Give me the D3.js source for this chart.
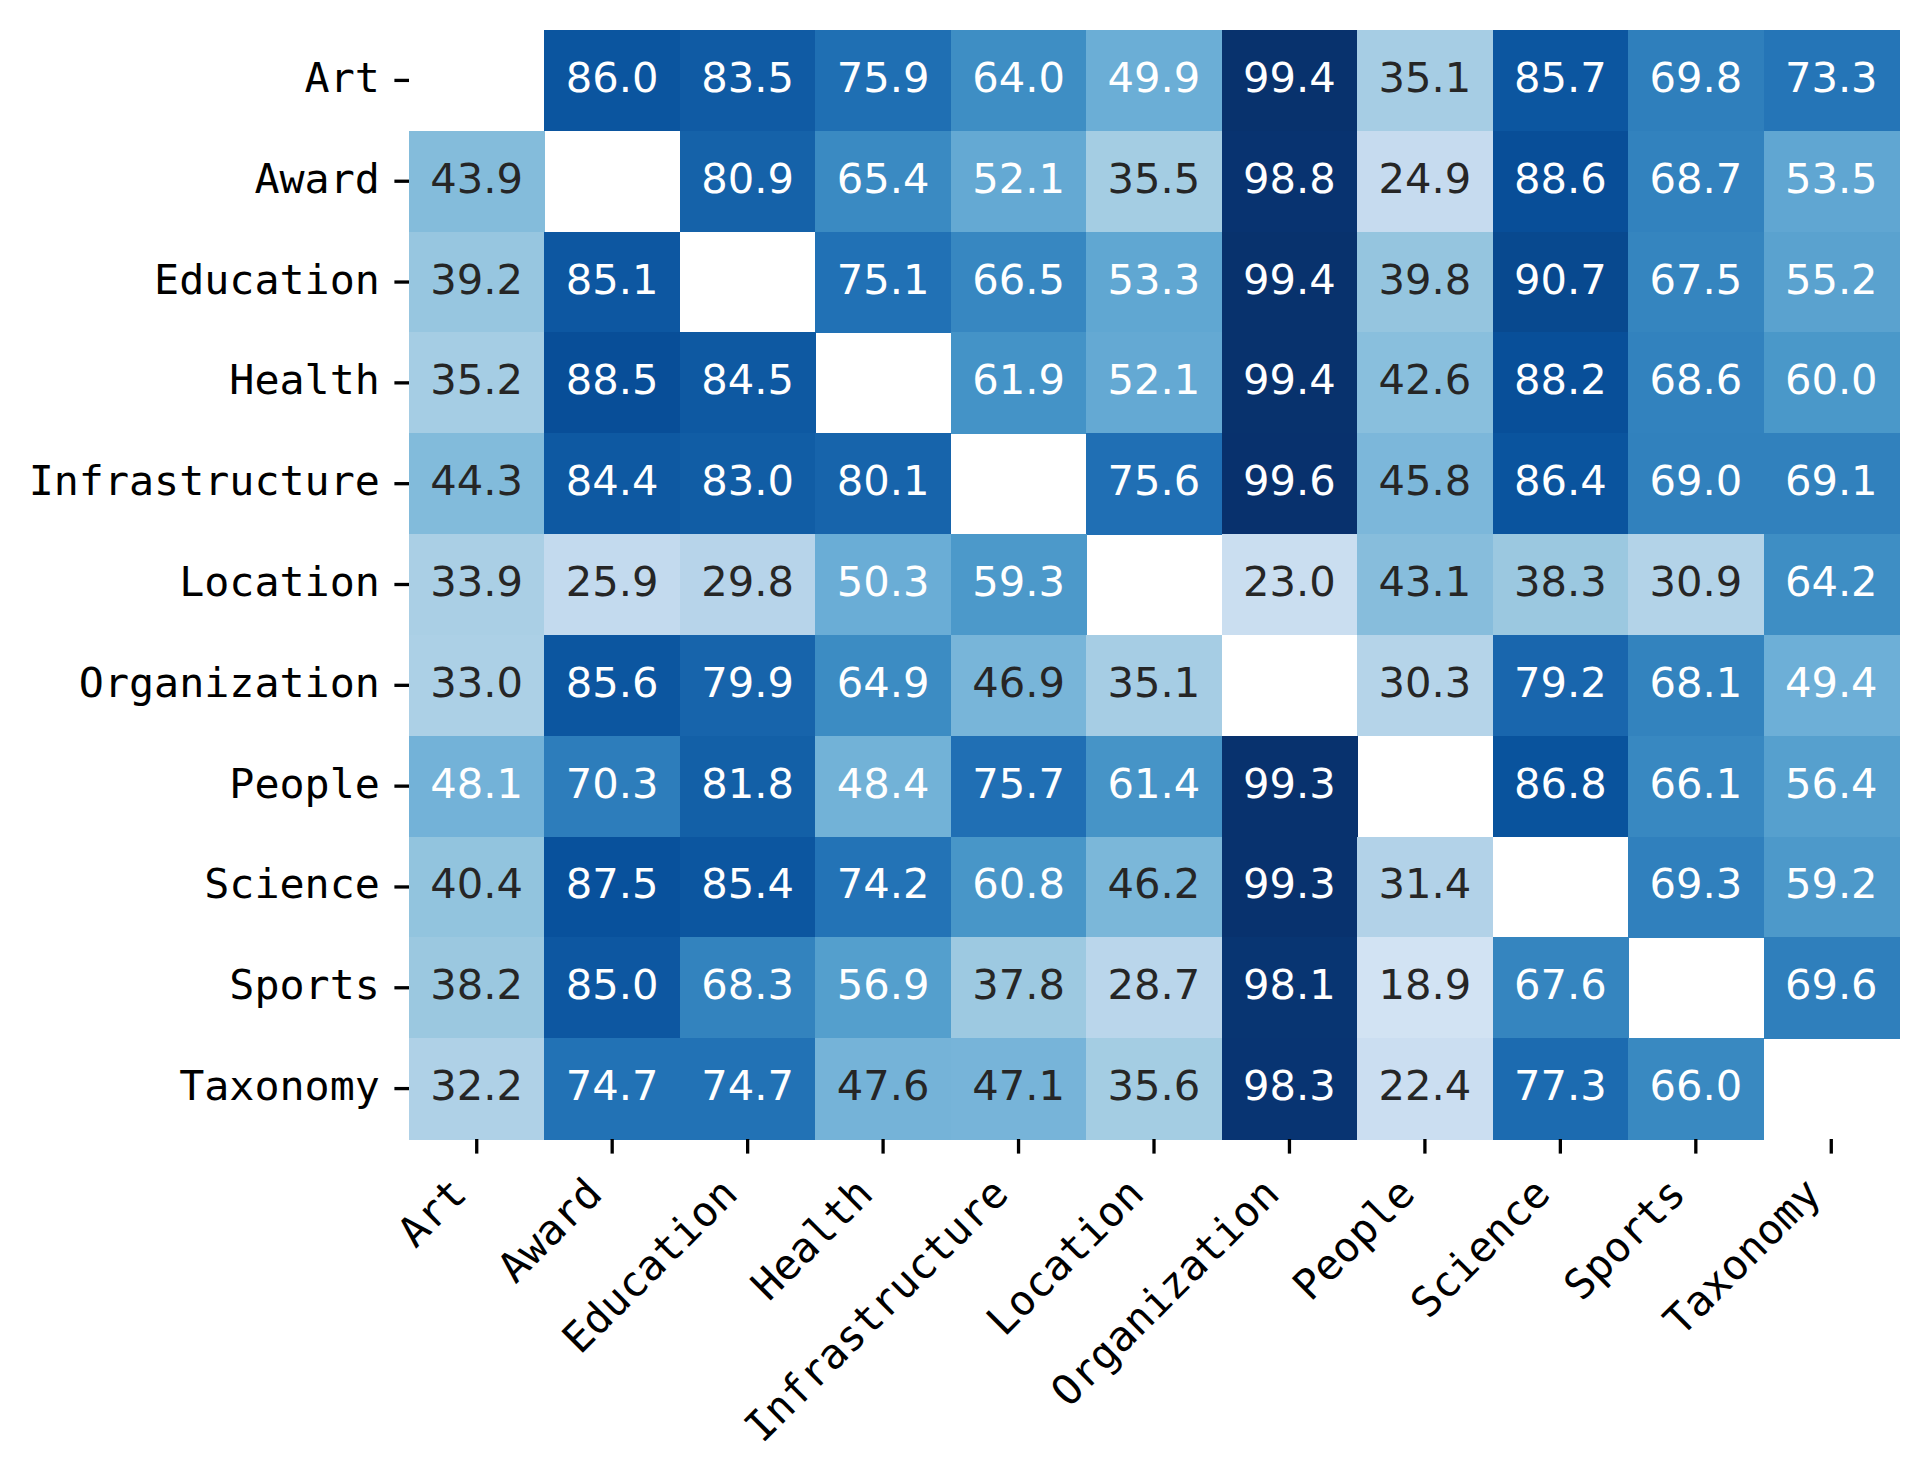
<!DOCTYPE html>
<html>
<head>
<meta charset="utf-8">
<script src="https://cdn.jsdelivr.net/npm/d3@7"></script>
<style>
  body { margin: 0; background: #fff; }
</style>
</head>
<body>
<div id="graph"></div>
<script>
// categories (same order for rows and columns)
const categories = ["Art", "Award", "Education", "Health", "Infrastructure", "Location",
  "Organization", "People", "Science", "Sports", "Taxonomy"];

// one array per row, null on the diagonal (masked cells)
const rowArt            = [null, 86.0, 83.5, 75.9, 64.0, 49.9, 99.4, 35.1, 85.7, 69.8, 73.3];
const rowAward          = [43.9, null, 80.9, 65.4, 52.1, 35.5, 98.8, 24.9, 88.6, 68.7, 53.5];
const rowEducation      = [39.2, 85.1, null, 75.1, 66.5, 53.3, 99.4, 39.8, 90.7, 67.5, 55.2];
const rowHealth         = [35.2, 88.5, 84.5, null, 61.9, 52.1, 99.4, 42.6, 88.2, 68.6, 60.0];
const rowInfrastructure = [44.3, 84.4, 83.0, 80.1, null, 75.6, 99.6, 45.8, 86.4, 69.0, 69.1];
const rowLocation       = [33.9, 25.9, 29.8, 50.3, 59.3, null, 23.0, 43.1, 38.3, 30.9, 64.2];
const rowOrganization   = [33.0, 85.6, 79.9, 64.9, 46.9, 35.1, null, 30.3, 79.2, 68.1, 49.4];
const rowPeople         = [48.1, 70.3, 81.8, 48.4, 75.7, 61.4, 99.3, null, 86.8, 66.1, 56.4];
const rowScience        = [40.4, 87.5, 85.4, 74.2, 60.8, 46.2, 99.3, 31.4, null, 69.3, 59.2];
const rowSports         = [38.2, 85.0, 68.3, 56.9, 37.8, 28.7, 98.1, 18.9, 67.6, null, 69.6];
const rowTaxonomy       = [32.2, 74.7, 74.7, 47.6, 47.1, 35.6, 98.3, 22.4, 77.3, 66.0, null];

const rows = [rowArt, rowAward, rowEducation, rowHealth, rowInfrastructure, rowLocation,
  rowOrganization, rowPeople, rowScience, rowSports, rowTaxonomy];

// matplotlib "Blues" stops
const bluesStops = ["#f7fbff", "#deebf7", "#c6dbef", "#9ecae1", "#6baed6",
  "#4292c6", "#2171b5", "#08519c", "#08306b"];

const width = 1927;
const height = 1475;
const plot = { left: 409, right: 1899, top: 30, bottom: 1139 };
const fontPx = 41.67;
const tickLen = 14.6;
const tickPad = 14.6;

// flatten into cells
const cells = [];
rows.forEach((vals, r) => {
  vals.forEach((v, c) => {
    cells.push({ row: categories[r], col: categories[c], value: v });
  });
});

const svg = d3.select("#graph")
  .append("svg")
  .attr("width", width)
  .attr("height", height)
  .style("font-family", "'DejaVu Sans', sans-serif");

const x = d3.scaleBand()
  .domain(categories)
  .range([plot.left, plot.right]);

const y = d3.scaleBand()
  .domain(categories)
  .range([plot.top, plot.bottom]);

const color = d3.scaleLinear()
  .domain(bluesStops.map((d, i) => i * 100 / (bluesStops.length - 1)))
  .range(bluesStops)
  .interpolate(d3.interpolateRgb)
  .clamp(true);

// seaborn picks dark or white annotation by relative luminance
function textColor(fill) {
  const c = d3.rgb(fill);
  const lin = [c.r, c.g, c.b].map(v => {
    v = v / 255;
    return v <= 0.03928 ? v / 12.92 : Math.pow((v + 0.055) / 1.055, 2.4);
  });
  const lum = 0.2126 * lin[0] + 0.7152 * lin[1] + 0.0722 * lin[2];
  return lum > 0.408 ? "#262626" : "#ffffff";
}

const valid = cells.filter(d => d.value !== null);

// cells
svg.append("g")
  .selectAll("rect")
  .data(valid)
  .join("rect")
  .attr("x", d => x(d.col))
  .attr("y", d => y(d.row))
  .attr("width", x.bandwidth() + 0.5)
  .attr("height", y.bandwidth() + 0.5)
  .attr("fill", d => color(d.value))
  .attr("shape-rendering", "crispEdges");

// annotations
svg.append("g")
  .selectAll("text")
  .data(valid)
  .join("text")
  .attr("x", d => x(d.col) + x.bandwidth() / 2)
  .attr("y", d => y(d.row) + y.bandwidth() / 2)
  .attr("dy", "0.276em")
  .attr("text-anchor", "middle")
  .style("font-size", fontPx + "px")
  .attr("fill", d => textColor(color(d.value)))
  .text(d => d.value.toFixed(1));

// y axis
const yAxis = svg.append("g")
  .attr("transform", `translate(${plot.left},0)`)
  .call(d3.axisLeft(y).tickSize(tickLen).tickPadding(tickPad).tickSizeOuter(0));
yAxis.select(".domain").remove();
yAxis.selectAll(".tick line").attr("stroke", "#000").attr("stroke-width", 3.3);
yAxis.selectAll(".tick text")
  .attr("dy", "0.276em")
  .attr("fill", "#000")
  .style("font-family", "'DejaVu Sans Mono', monospace")
  .style("font-size", fontPx + "px");

// x axis
const xAxis = svg.append("g")
  .attr("transform", `translate(0,${plot.bottom})`)
  .call(d3.axisBottom(x).tickSize(tickLen).tickSizeOuter(0));
xAxis.select(".domain").remove();
xAxis.selectAll(".tick line").attr("stroke", "#000").attr("stroke-width", 3.3);
xAxis.selectAll(".tick text")
  .attr("x", 0)
  .attr("y", 0)
  .attr("dy", 0)
  .attr("transform", "translate(-8,57) rotate(-45)")
  .attr("text-anchor", "end")
  .attr("fill", "#000")
  .style("font-family", "'DejaVu Sans Mono', monospace")
  .style("font-size", fontPx + "px");
</script>
</body>
</html>
